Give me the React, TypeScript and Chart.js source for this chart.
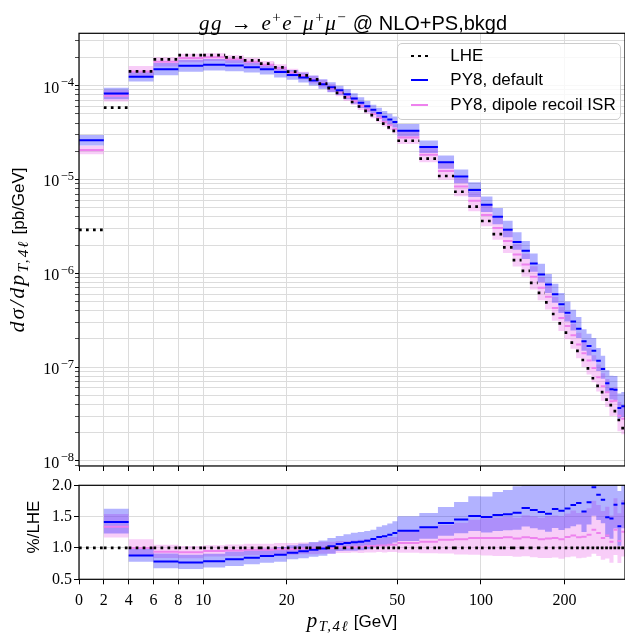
import { useEffect, useRef } from 'react';
import { Chart, LinearScale, registerables } from 'chart.js';

Chart.register(...registerables);

// bin edges in GeV (2 GeV bins up to 50, 10 GeV bins above)
const EDGES = [
  0, 2, 4, 6, 8, 10, 12, 14, 16, 18, 20, 22, 24, 26, 28, 30, 32, 34, 36, 38, 40, 42, 44, 46, 48, 50,
  60, 70, 80, 90, 100, 110, 120, 130, 140, 150, 160, 170, 180, 190, 200, 210, 220, 230, 240, 250,
  260, 270, 280, 290, 300, 310, 320, 330,
];

// LHE d(sigma)/dpT [pb/GeV]
const LHE = [
  2.9e-6, 5.83e-5, 1.42e-4, 1.91e-4, 2.12e-4, 2.12e-4, 2.0e-4, 1.86e-4, 1.72e-4, 1.57e-4,
  1.41e-4, 1.29e-4, 1.17e-4, 1.05e-4, 9.4e-5, 8.4e-5, 7.5e-5, 6.7e-5, 6.0e-5, 5.4e-5,
  4.85e-5, 4.35e-5, 3.95e-5, 3.6e-5, 3.3e-5,
  2.59e-5, 1.67e-5, 1.09e-5, 7.4e-6, 5.13e-6,
  3.61e-6, 2.62e-6, 1.89e-6, 1.38e-6, 1.06e-6, 7.9e-7, 6.17e-7, 4.9e-7, 3.68e-7, 2.93e-7,
  2.33e-7, 1.82e-7, 1.49e-7, 1.19e-7, 9.7e-8, 7.6e-8, 6.3e-8, 5.4e-8, 4.5e-8, 3.94e-8,
  3.4e-8, 2.73e-8, 2.23e-8,
];

// PY8 default / LHE
const R_DEF = [
  9.03, 1.415, 0.88, 0.786, 0.77, 0.79, 0.82, 0.845, 0.87, 0.89,
  0.925, 0.946, 0.97, 0.99, 1.026, 1.064, 1.08, 1.09, 1.1, 1.116,
  1.143, 1.175, 1.185, 1.21, 1.24,
  1.276, 1.33, 1.4, 1.456, 1.51,
  1.494, 1.526, 1.54, 1.563, 1.638, 1.606, 1.574, 1.547, 1.62, 1.595,
  1.63, 1.685, 1.717, 1.58, 1.73, 1.97, 1.85, 1.77, 1.49, 1.47,
  1.69, 1.345, 1.71,
];

// PY8 dipole recoil ISR / LHE
const R_DIP = [
  7.1, 1.34, 1.0, 0.94, 0.93, 0.95, 0.96, 0.97, 0.97, 0.98,
  0.98, 0.99, 0.99, 1.0, 1.0, 1.01, 1.01, 1.02, 1.02, 1.03,
  1.03, 1.04, 1.04, 1.05, 1.05,
  1.08, 1.1, 1.13, 1.14, 1.16,
  1.16, 1.16, 1.17, 1.15, 1.17, 1.16, 1.14, 1.15, 1.16, 1.14,
  1.175, 1.2, 1.17, 1.18, 1.21, 1.29, 1.24, 1.16, 1.2, 1.1,
  1.29, 1.11, 1.26,
];

// uncertainty bands, as factors up / down
const UP_DEF = [
  1.14, 1.15, 1.13, 1.16, 1.16, 1.15, 1.15, 1.14, 1.14, 1.14,
  1.13, 1.13, 1.13, 1.13, 1.13, 1.12, 1.13, 1.14, 1.14, 1.14,
  1.13, 1.14, 1.15, 1.15, 1.15,
  1.18, 1.17, 1.18, 1.19, 1.21,
  1.22, 1.24, 1.25, 1.27, 1.27, 1.28, 1.3, 1.3, 1.3, 1.32,
  1.32, 1.33, 1.34, 1.35, 1.35, 1.36, 1.37, 1.38, 1.38, 1.4,
  1.4, 1.42, 1.42,
];
const DN_DEF = [
  1.14, 1.15, 1.13, 1.16, 1.16, 1.15, 1.15, 1.14, 1.14, 1.14,
  1.13, 1.13, 1.13, 1.13, 1.13, 1.12, 1.13, 1.14, 1.14, 1.14,
  1.13, 1.14, 1.14, 1.14, 1.14,
  1.15, 1.16, 1.17, 1.18, 1.19,
  1.2, 1.2, 1.2, 1.21, 1.22, 1.22, 1.22, 1.23, 1.23, 1.24,
  1.24, 1.25, 1.25, 1.26, 1.26, 1.3, 1.28, 1.27, 1.27, 1.28,
  1.29, 1.3, 1.3,
];
const UP_DIP = [
  1.11, 1.15, 1.14, 1.12, 1.11, 1.1, 1.1, 1.1, 1.1, 1.1,
  1.1, 1.1, 1.1, 1.1, 1.1, 1.1, 1.1, 1.1, 1.11, 1.11,
  1.11, 1.11, 1.12, 1.12, 1.12,
  1.17, 1.19, 1.21, 1.23, 1.25,
  1.27, 1.28, 1.28, 1.29, 1.3, 1.3, 1.3, 1.31, 1.31, 1.32,
  1.32, 1.33, 1.33, 1.34, 1.35, 1.36, 1.36, 1.37, 1.38, 1.38,
  1.39, 1.4, 1.4,
];
const DN_DIP = [
  1.11, 1.15, 1.14, 1.12, 1.11, 1.1, 1.1, 1.1, 1.1, 1.1,
  1.1, 1.1, 1.1, 1.1, 1.1, 1.1, 1.1, 1.1, 1.11, 1.11,
  1.11, 1.11, 1.12, 1.12, 1.12,
  1.17, 1.2, 1.24, 1.27, 1.3,
  1.32, 1.33, 1.34, 1.34, 1.35, 1.36, 1.36, 1.37, 1.37, 1.38,
  1.38, 1.39, 1.4, 1.4, 1.41, 1.42, 1.42, 1.43, 1.44, 1.44,
  1.45, 1.46, 1.46,
];

const X_TICKS = [0, 2, 4, 6, 8, 10, 20, 50, 100, 200];
const Y_MAJOR = [1e-8, 1e-7, 1e-6, 1e-5, 1e-4];
const Y_EXPONENTS = ['\u22128', '\u22127', '\u22126', '\u22125', '\u22124'];
const R_TICKS = [0.5, 1.0, 1.5, 2.0];

const X_MIN = 0;
const X_MAX = 330;
const Y_MIN = 8.82e-9;
const Y_MAX = 3.62e-4;

const SERIF = '"Liberation Serif", "DejaVu Serif", serif';
const SANS = '"Liberation Sans", Arial, sans-serif';
const BLUE = '#0000ff';
const VIOLET = '#ee82ee';
const GRID = '#dcdcdc';

// symlog transform: linear below 10 GeV, log above
const LINTHRESH = 10;
const LIN_DECADES = 0.447;
function symT(v: number) {
  return v <= LINTHRESH ? (LIN_DECADES * v) / LINTHRESH : LIN_DECADES + Math.log10(v / LINTHRESH);
}
function symInv(t: number) {
  return t <= LIN_DECADES ? (t / LIN_DECADES) * LINTHRESH : LINTHRESH * Math.pow(10, t - LIN_DECADES);
}

class SymLogScale extends LinearScale {
  static id = 'symlog';
  static defaults = {};
  buildTicks() {
    return X_TICKS.map((value) => ({ value }));
  }
  getPixelForValue(value: any) {
    if (value === null || value === undefined || Number.isNaN(value)) return NaN;
    const t0 = symT(this.min);
    const t1 = symT(this.max);
    return this.getPixelForDecimal((symT(value) - t0) / (t1 - t0));
  }
  getValueForPixel(pixel: number) {
    const t0 = symT(this.min);
    const t1 = symT(this.max);
    return symInv(t0 + this.getDecimalForPixel(pixel) * (t1 - t0));
  }
}
Chart.register(SymLogScale);

const framePlugin = {
  id: 'frame',
  afterDraw(chart: any) {
    const { ctx, chartArea: a } = chart;
    ctx.save();
    ctx.strokeStyle = '#000';
    ctx.lineWidth = 1.2;
    ctx.strokeRect(a.left, a.top, a.right - a.left, a.bottom - a.top);
    ctx.restore();
  },
};

// "10^-n" labels with a raised exponent, placed at the log axis ticks
const powerLabelsPlugin = {
  id: 'powerLabels',
  afterDraw(chart: any) {
    const s = chart.scales.y;
    const ctx = chart.ctx;
    ctx.save();
    ctx.fillStyle = '#000';
    ctx.textBaseline = 'alphabetic';
    ctx.textAlign = 'left';
    Y_MAJOR.forEach((v, i) => {
      const y = s.getPixelForValue(v);
      const right = s.right - 5;
      ctx.font = `12.5px ${SERIF}`;
      const wExp = ctx.measureText(Y_EXPONENTS[i]).width;
      ctx.font = `16px ${SERIF}`;
      const wBase = ctx.measureText('10').width;
      ctx.fillText('10', right - wExp - wBase - 1.5, y + 7);
      ctx.font = `12.5px ${SERIF}`;
      ctx.fillText(Y_EXPONENTS[i], right - wExp, y + 0.5);
    });
    ctx.restore();
  },
};

function binSegments(vals: number[]) {
  const pts: any[] = [];
  vals.forEach((v, i) => {
    pts.push({ x: EDGES[i], y: v }, { x: EDGES[i + 1], y: v }, { x: EDGES[i + 1], y: null });
  });
  return pts;
}

function stepEdges(vals: number[]) {
  const pts: any[] = vals.map((v, i) => ({ x: EDGES[i], y: v }));
  pts.push({ x: EDGES[vals.length], y: vals[vals.length - 1] });
  return pts;
}

function buildDatasets(lhe: number[], def: number[], dip: number[]) {
  const line = (data: any[], color: string, width: number, dash: number[] = []) => ({
    data,
    borderColor: color,
    borderWidth: width,
    borderDash: dash,
    borderCapStyle: 'butt',
    pointRadius: 0,
    fill: false,
    spanGaps: false,
  });
  const band = (data: any[], fill: any, color: string) => ({
    data,
    borderWidth: 0,
    borderColor: 'rgba(0,0,0,0)',
    backgroundColor: color,
    pointRadius: 0,
    stepped: 'before',
    fill,
  });
  return [
    line(binSegments(lhe), '#000', 2.7, [2.7, 4.3]),
    line(binSegments(def), BLUE, 2),
    line(binSegments(dip), VIOLET, 2),
    band(stepEdges(def.map((v, i) => v * UP_DEF[i])), '+1', 'rgba(0,0,255,0.3)'),
    band(stepEdges(def.map((v, i) => v / DN_DEF[i])), false, 'rgba(0,0,0,0)'),
    band(stepEdges(dip.map((v, i) => v * UP_DIP[i])), '+1', 'rgba(238,130,238,0.4)'),
    band(stepEdges(dip.map((v, i) => v / DN_DIP[i])), false, 'rgba(0,0,0,0)'),
  ];
}

const tickFont = { family: SERIF, size: 16, lineHeight: 1 };

function xScale(showLabels: boolean, height: number) {
  return {
    type: 'symlog',
    min: X_MIN,
    max: X_MAX,
    afterFit: (s: any) => {
      s.height = height;
    },
    border: { display: false },
    grid: { color: GRID, lineWidth: 1, tickColor: '#000', tickLength: 5, tickWidth: 1 },
    ticks: {
      display: showLabels,
      autoSkip: false,
      maxRotation: 0,
      padding: 8,
      color: '#000',
      font: tickFont,
      callback: (v: any) => String(v),
    },
  };
}

function MainPanel() {
  const canvasRef = useRef<HTMLCanvasElement | null>(null);
  useEffect(() => {
    const canvas = canvasRef.current;
    if (!canvas) return;
    const def = LHE.map((v, i) => v * R_DEF[i]);
    const dip = LHE.map((v, i) => v * R_DIP[i]);
    const chart = new Chart(canvas, {
      type: 'line',
      data: { datasets: buildDatasets(LHE, def, dip) as any },
      options: {
        responsive: false,
        animation: false,
        events: [],
        layout: { padding: { top: 33.3, left: 0, right: 0, bottom: 0 } },
        plugins: { legend: { display: false }, tooltip: { enabled: false } },
        scales: {
          x: xScale(false, 14) as any,
          y: {
            type: 'logarithmic',
            min: Y_MIN,
            max: Y_MAX,
            afterFit: (s: any) => {
              s.width = 79;
            },
            afterBuildTicks: (s: any) => {
              const ticks: any[] = [];
              [1e-9, ...Y_MAJOR].forEach((m) => {
                for (let k = 1; k <= 9; k++) {
                  const v = m * k;
                  if (v >= Y_MIN && v <= Y_MAX) ticks.push({ value: k === 1 ? m : v, isMajor: k === 1 });
                }
              });
              s.ticks = ticks;
            },
            border: { display: false },
            grid: {
              color: GRID,
              lineWidth: 1,
              tickColor: '#000',
              tickLength: 4,
              tickWidth: (ctx: any) => (ctx.tick && ctx.tick.isMajor ? 1 : 0.7),
            },
            ticks: {
              autoSkip: false,
              padding: 2,
              color: '#000',
              font: tickFont,
              callback: () => '',
            },
          } as any,
        },
      },
      plugins: [framePlugin, powerLabelsPlugin],
    });
    return () => chart.destroy();
  }, []);
  return <canvas ref={canvasRef} width={625} height={480} style={{ position: 'absolute', left: 0, top: 0 }} />;
}

function RatioPanel() {
  const canvasRef = useRef<HTMLCanvasElement | null>(null);
  useEffect(() => {
    const canvas = canvasRef.current;
    if (!canvas) return;
    const one = LHE.map((v) => v / v);
    const chart = new Chart(canvas, {
      type: 'line',
      data: { datasets: buildDatasets(one, R_DEF, R_DIP) as any },
      options: {
        responsive: false,
        animation: false,
        events: [],
        layout: { padding: { top: 10.3, left: 0, right: 0, bottom: 0 } },
        plugins: { legend: { display: false }, tooltip: { enabled: false } },
        scales: {
          x: xScale(true, 54.7) as any,
          y: {
            type: 'linear',
            min: 0.5,
            max: 2.0,
            afterFit: (s: any) => {
              s.width = 79;
            },
            afterBuildTicks: (s: any) => {
              s.ticks = R_TICKS.map((value) => ({ value }));
            },
            border: { display: false },
            grid: { color: GRID, lineWidth: 1, tickColor: '#000', tickLength: 5, tickWidth: 1 },
            ticks: {
              autoSkip: false,
              padding: 2,
              color: '#000',
              font: tickFont,
              callback: (v: any) => Number(v).toFixed(1),
            },
          } as any,
        },
      },
      plugins: [framePlugin],
    });
    return () => chart.destroy();
  }, []);
  return <canvas ref={canvasRef} width={625} height={159} style={{ position: 'absolute', left: 0, top: 475 }} />;
}

const mathStyle: any = { fontFamily: SERIF, fontStyle: 'italic' };
const supStyle: any = { fontSize: '0.72em', verticalAlign: '0.5em', fontStyle: 'normal' };
const subStyle: any = { fontSize: '0.7em', verticalAlign: '-0.3em' };

const LEGEND_ITEMS = [
  { label: 'LHE', kind: 'dots', color: '#000' },
  { label: 'PY8, default', kind: 'solid', color: BLUE },
  { label: 'PY8, dipole recoil ISR', kind: 'solid', color: VIOLET },
];

function Legend() {
  return (
    <div
      style={{
        position: 'absolute',
        left: 397,
        top: 43,
        width: 222,
        height: 75,
        background: 'rgba(255,255,255,0.8)',
        border: '1px solid #cccccc',
        borderRadius: 5,
        fontFamily: SANS,
        fontSize: 17,
      }}
    >
      {LEGEND_ITEMS.map((it, i) => (
        <div
          key={it.label}
          style={{ position: 'absolute', left: 13, top: 2 + i * 24.3, height: 20, display: 'flex', alignItems: 'center', whiteSpace: 'nowrap' }}
        >
          <span
            style={{
              display: 'inline-block',
              width: 17.3,
              height: it.kind === 'dots' ? 2.7 : 2,
              background:
                it.kind === 'dots'
                  ? 'repeating-linear-gradient(to right, #000 0px, #000 2.7px, transparent 2.7px, transparent 7px)'
                  : it.color,
              marginRight: 22,
            }}
          />
          <span>{it.label}</span>
        </div>
      ))}
    </div>
  );
}

export default function App() {
  return (
    <div style={{ position: 'absolute', left: 0, top: 0, width: 625, height: 634, background: '#fff', overflow: 'hidden' }}>
      <MainPanel />
      <RatioPanel />
      <Legend />
      <div
        style={{
          position: 'absolute',
          left: 353,
          top: 6,
          transform: 'translateX(-50%)',
          whiteSpace: 'nowrap',
          fontFamily: SANS,
          fontSize: 20,
          lineHeight: '22px',
        }}
      >
        <span style={{ ...mathStyle, fontSize: 21, letterSpacing: 1.5 }}>
          gg<span style={{ fontStyle: 'normal', margin: '0 8px' }}>{'\u2192'}</span>e<span style={supStyle}>+</span>e
          <span style={supStyle}>{'\u2212'}</span>
          {'\u03BC'}
          <span style={supStyle}>+</span>
          {'\u03BC'}
          <span style={supStyle}>{'\u2212'}</span>
        </span>
        <span> @ NLO+PS,bkgd</span>
      </div>
      <div
        style={{
          position: 'absolute',
          left: 20,
          top: 250,
          transform: 'translate(-50%, -50%) rotate(-90deg)',
          whiteSpace: 'nowrap',
          fontFamily: SANS,
          fontSize: 17,
          lineHeight: '24px',
        }}
      >
        <span style={{ ...mathStyle, fontSize: 22, letterSpacing: 2 }}>
          d{'\u03C3'}/dp<span style={subStyle}>T,4{'\u2113'}</span>
        </span>
        <span> [pb/GeV]</span>
      </div>
      <div
        style={{
          position: 'absolute',
          left: 34,
          top: 527,
          transform: 'translate(-50%, -50%) rotate(-90deg)',
          whiteSpace: 'nowrap',
          fontFamily: SANS,
          fontSize: 17,
          lineHeight: '20px',
        }}
      >
        %/LHE
      </div>
      <div
        style={{
          position: 'absolute',
          left: 352,
          top: 609,
          transform: 'translateX(-50%)',
          whiteSpace: 'nowrap',
          fontFamily: SANS,
          fontSize: 17,
          lineHeight: '22px',
        }}
      >
        <span style={{ ...mathStyle, fontSize: 21, letterSpacing: 1.5 }}>
          p<span style={subStyle}>T,4{'\u2113'}</span>
        </span>
        <span> [GeV]</span>
      </div>
    </div>
  );
}
